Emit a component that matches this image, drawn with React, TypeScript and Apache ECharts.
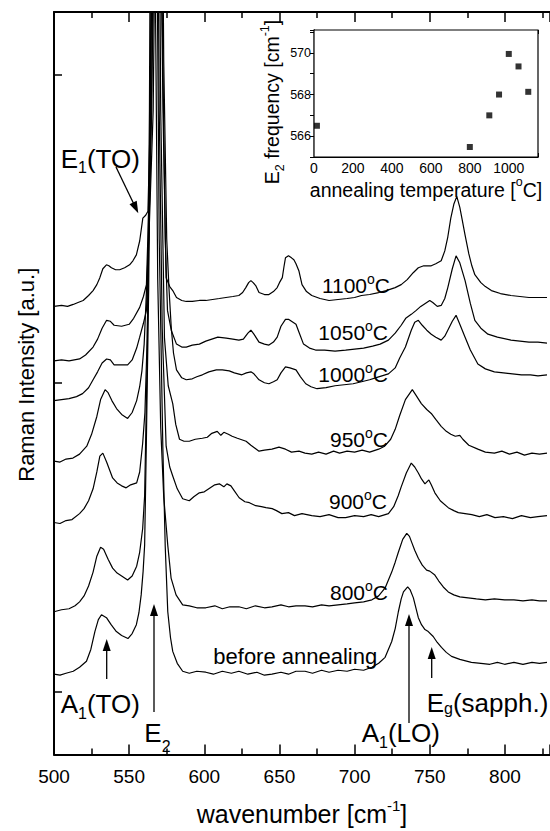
import React, { useEffect, useRef } from "react";
import * as echarts from "echarts";

const FONT = "'Liberation Sans', Arial, Helvetica, sans-serif";

// ---- main spectra: [wavenumber (cm^-1), intensity (a.u., offset per curve)] ----
const beforeAnnealing: number[][] = [
  [500,81],[504,80],[508,82],[512.8,84],[517,88],[521.6,94],[524.5,106],[527.2,124],[529.5,136],[531.6,141],[534.9,138],[538,131],[541.5,124],[545,120],[549.2,117],[552,122],[554.8,131],[556.5,143],[558,161],[559.3,185],[560.3,211],[561.4,311],[563,470],[564.5,750],[565.5,1100],[566.5,1500],[567.5,1150],[568.5,820],[570,520],[572.4,311],[574,210],[575.7,144],[577.5,118],[579,104],[582,92],[585.6,84],[590,82],[595,84],[601,83],[606,81],[612,84],[618,82],[623,84],[629,81],[635,83],[640,80],[645,81],[651,83],[656,81],[661,84],[667,84],[672,82],[678,85],[683,83],[689,85],[695,84],[700,86],[706,85],[711.5,88],[716,92],[720.3,98],[724.7,114],[727,127],[729.1,144],[731,157],[732.5,164],[735.3,169],[737,166],[739.1,158],[742.4,138],[744.5,131],[746.8,126],[749,124],[752.3,119],[755,113],[757.8,108],[761,103],[764.5,99],[770,96],[777.7,93],[784,92],[790,91],[795,93],[799.8,91],[806,93],[812,91],[818,93],[823,92],[828,93]
];
const annealed800: number[][] = [
  [500,144],[505,146],[510,147],[514,150],[517,154],[520,160],[523,170],[526,184],[528.5,200],[531,209],[533,207],[536,197],[539,188],[542,183],[545,180],[549,176],[552,180],[555,190],[557,204],[559,228],[560.3,261],[562,400],[563.5,650],[564.5,1000],[565.5,1500],[566.5,1100],[567.5,760],[569,480],[571,330],[573,260],[575.7,211],[577.9,178],[581.2,161],[585.6,151],[590,150],[595,148],[601,148],[607,150],[612,147],[617,149],[623,149],[628,147],[634,150],[640,148],[645,149],[651,151],[656,149],[661,150],[667,150],[672,149],[678,151],[683,150],[689,151],[695,152],[700,153],[706,154],[711.5,156],[716,160],[720.3,168],[724.7,184],[727,194],[729.1,204],[732,217],[734.7,223],[736.5,220],[738,214],[740,206],[742.4,198],[745,191],[747.9,186],[750,185],[753.4,181],[756,175],[759,169],[762.3,164],[766,161],[770,159],[775.5,158],[781,157],[787,156],[793,157],[799.8,156],[806,156],[812,155],[818,156],[823,155],[828,155]
];
const annealed900: number[][] = [
  [500,234],[504,233],[508,236],[512,237],[517,243],[520,248],[523,256],[526,268],[528.5,285],[530.5,301],[532.5,304],[535,295],[539,279],[542,274],[545,271],[548,269],[551,272],[555,274],[557,285],[559,314],[560.5,345],[562,420],[564,600],[565.5,950],[567,1500],[568.5,1000],[570,650],[572,430],[574.6,311],[577,290],[579,281],[582,268],[585.6,258],[590,256],[593,260],[596.7,264],[600,265],[604,269],[607,272],[610,273],[613,270],[615,273],[617.7,271],[620,266],[623.2,259],[627,255],[630,254],[634.2,251],[638,250],[641,249],[645.2,248],[648,246],[651.6,243],[656,244],[660,241],[665,243],[671.5,241],[677,240],[683,242],[689,239],[694,239],[700,241],[706,240],[711,242],[716,240],[722.5,243],[726,250],[729,261],[731,270],[734.4,284],[737.7,294],[740,290],[742.4,284],[744.5,278],[746.8,273],[749.4,277],[751,272],[753.4,264],[757,256],[762.3,249],[766,246],[769,244],[773.5,243],[778,242],[783,240],[788,242],[793.4,239],[799,240],[805,238],[811,241],[817,239],[822,240],[828,241]
];
const annealed950: number[][] = [
  [500,296],[504,295],[508,298],[512.6,299],[517,303],[521.8,311],[525,323],[528.5,341],[531,358],[534,368],[536,365],[538.5,357],[541.6,349],[545,343],[549,339],[552,345],[555,357],[557,371],[558.5,387],[560,414],[563,520],[565,650],[566.5,950],[568,1500],[569.5,1000],[571,650],[573.5,420],[576,372],[579,354],[581,333],[583.5,318],[586.5,316],[590,316],[594,318],[598.7,319],[602,320],[605,324],[608.6,326],[611,322],[613,325],[616,323],[618.5,321],[622,319],[627.8,316],[631,312],[636.4,306],[640,307],[645,308],[649.7,310],[654,308],[658,305],[663,306],[667,304],[671.5,303],[676,305],[681,303],[686,306],[690,304],[695,306],[700,305],[705,307],[710,305],[716,308],[720,311],[724,318],[727,328],[730,342],[733.8,358],[738.4,368],[741,362],[744.4,354],[748,348],[751,344],[754,338],[757.6,331],[761,326],[764,323],[767,321],[770,322],[772,318],[776,312],[782,308],[787,305],[793,304],[798,306],[803,303],[808,305],[813,302],[818,304],[823,303],[828,304]
];
const annealed1000: number[][] = [
  [500,357],[505,358],[510,359],[515,361],[519,364],[523,370],[526,378],[529,386],[532,395],[535,399],[537.5,398],[540,393],[544,393],[549,393],[552,398],[555,410],[557,421],[559.5,435],[561.5,448],[564,560],[566,650],[568,950],[570,1500],[571.5,1000],[573,700],[575,520],[576.5,470],[578,431],[579.5,405],[581.5,388],[585,380],[588,378],[592,379],[595,381],[598.7,383],[603,386],[608,388],[612,388],[616.6,387],[620,385],[625,383],[628,385],[631,386],[633,384],[636.4,378],[640,375],[643,374],[646,376],[648.5,378],[651,385],[654,391],[657,390],[661,388],[664,381],[667.5,374],[671,371],[675,369],[681,370],[687,372],[693,373],[699,374],[704.6,376],[710,378],[716,381],[722.5,384],[727,390],[730,400],[733.8,411],[737.7,428],[740,436],[742.4,438],[745,433],[748,428],[751,424],[754,421],[757.6,418],[760,422],[762,428],[765,437],[767.5,443],[770,434],[773.5,421],[777,408],[782,394],[787,389],[793,386],[799,385],[805,384],[811,383],[817,383],[822,382],[828,383]
];
const annealed1050: number[][] = [
  [500,397],[505,398],[510,397],[517,399],[521,403],[526,411],[529,419],[532,430],[535,438],[537.5,437],[540,433],[545,432],[550,434],[553,440],[557,451],[559.5,462],[561.5,474],[564,600],[566,750],[568,1100],[569.3,1500],[570.5,1100],[572,750],[574,520],[575.5,448],[578,428],[581.5,414],[585,411],[588,411],[592,413],[596.7,414],[601,417],[605,419],[609,421],[614.6,420],[619,419],[623,418],[626,419],[629,425],[631,428],[633,424],[636.4,416],[640,414],[643,413],[646,416],[648.5,421],[651,432],[654,439],[656,439],[658,437],[661,434],[663,426],[666,414],[670,410],[674,408],[680,408],[687,407],[694,408],[700,409],[706,410],[712,412],[717,414],[722.5,418],[727,425],[731,433],[734,440],[737.7,444],[741,448],[744,452],[747,455],[750,458],[752,456],[755,452],[757.6,453],[760,460],[762,471],[765,490],[767.5,503],[770,496],[773.5,478],[777,455],[780,438],[784,430],[788.7,424],[795,421],[804,418],[810,417],[816,416],[822,416],[828,415]
];
const annealed1100: number[][] = [
  [500,452],[505,453],[509,452],[512.8,454],[516,456],[519.4,458],[523,463],[526,468],[528.5,474],[530.5,481],[532.5,490],[534.9,494],[536.5,493],[538.2,491],[541,489],[543.7,489],[547,491],[550.3,494],[552.5,498],[554.8,504],[557,518],[559.1,541],[561,544],[562.5,548],[564,640],[566,900],[567,1200],[568.1,1500],[569.2,1200],[570.5,900],[572.5,650],[574.6,481],[577,472],[579,468],[581.5,461],[585,458],[588,457],[592,457],[596.7,458],[601,458],[605.5,459],[610,460],[614.4,461],[619,462],[623,463],[625.5,466],[627.6,471],[629.5,476],[631,478],[632.5,476],[634.2,473],[636.4,466],[640,464],[643,464],[646,467],[648.5,471],[650,476],[651.9,481],[653,492],[654,501],[656,503],[658,501],[659.6,499],[661,495],[662.9,488],[665,474],[668,467],[671.5,463],[677,460],[683,458],[689,459],[695,460],[700,461],[704.6,463],[710,464],[716,466],[721,468],[727,471],[731,474],[735,479],[739,486],[742.4,491],[746,493],[751,493],[754,495],[757.6,498],[760,508],[762,522],[764,541],[766,555],[768,563],[770,552],[771.5,540],[773.5,524],[776,505],[778,493],[780,484],[784,476],[787,472],[791,468],[797,465],[804,463],[810,462],[816,461],[822,461],[828,461]
];
const spectra = [beforeAnnealing, annealed800, annealed900, annealed950, annealed1000, annealed1050, annealed1100];
const spectraNames = ["before annealing", "800°C", "900°C", "950°C", "1000°C", "1050°C", "1100°C"];

// ---- inset: E2 frequency vs annealing temperature ----
const annealTemps = [15, 800, 900, 950, 1000, 1050, 1100];
const e2Freq = [566.5, 565.48, 567.0, 568.0, 569.95, 569.35, 568.13];

// tick labels
const mainXTickLabels = [500, 550, 600, 650, 700, 750, 800];
const insetXTickLabels = [0, 200, 400, 600, 800, 1000];
const insetYTickLabels = [566, 568, 570];
const mainYTicks = [63, 375, 686];

const n = (t: string) => `{n|${t}}`;
const sub = (t: string) => `{b|${t}}`;
const sup = (t: string) => `{p|${t}}`;

function arrow(x1: number, y1: number, x2: number, y2: number) {
  const dx = x2 - x1, dy = y2 - y1;
  const len = Math.sqrt(dx * dx + dy * dy);
  const ux = dx / len, uy = dy / len;
  const hl = 12, hw = 4;
  const bx = x2 - ux * hl, by = y2 - uy * hl;
  return [
    { type: "line", shape: { x1, y1, x2: bx + ux * 2, y2: by + uy * 2 }, style: { stroke: "#000", lineWidth: 1.3 }, z: 100 },
    { type: "polygon", shape: { points: [[x2, y2], [bx - uy * hw, by + ux * hw], [bx + uy * hw, by - ux * hw]] }, style: { fill: "#000" }, z: 100 },
  ];
}

function peakLabel(text: string, x: number, baseline: number, subPad: number) {
  return {
    type: "text", x, y: baseline - 22, z: 100,
    style: {
      text, align: "left", verticalAlign: "top", fill: "#000", fontFamily: FONT,
      rich: {
        n: { fontSize: 26, lineHeight: 26, verticalAlign: "top", fontFamily: FONT, fill: "#000" },
        b: { fontSize: 16, lineHeight: 16, verticalAlign: "top", padding: [subPad, 0, 0, 0], fontFamily: FONT, fill: "#000" },
      },
    },
  };
}

function tempLabel(t: string, right: number, baseline: number) {
  return {
    type: "text", x: right, y: baseline - 21, z: 100,
    style: {
      text: n(t) + sup("o") + n("C"), align: "right", verticalAlign: "top", fontFamily: FONT, fill: "#000",
      rich: {
        n: { fontSize: 21, lineHeight: 21, verticalAlign: "top", padding: [3, 0, 0, 0], fontFamily: FONT, fill: "#000" },
        p: { fontSize: 14, lineHeight: 14, verticalAlign: "top", fontFamily: FONT, fill: "#000" },
      },
    },
  };
}

export default function App() {
  const ref = useRef<HTMLDivElement>(null);
  useEffect(() => {
    if (!ref.current) return;
    const chart = echarts.init(ref.current, undefined, { renderer: "svg" });
    const axisLine = { show: true, lineStyle: { color: "#000", width: 2 } };
    const insetLine = { show: true, lineStyle: { color: "#000", width: 1.2 } };

    const option: any = {
      animation: false,
      backgroundColor: "#fff",
      grid: [
        { left: 54, top: 12, right: -4, bottom: 70, show: false },
        { left: 314, top: 30, right: 12, bottom: 674, show: true, borderColor: "#000", borderWidth: 1.2, backgroundColor: "#fff", z: 5 },
      ],
      xAxis: [
        {
          gridIndex: 0, type: "value", min: 500, max: 830, interval: 50, position: "bottom",
          axisLine, splitLine: { show: false },
          axisTick: { inside: true, length: 10, lineStyle: { color: "#000", width: 1.5 } },
          minorTick: { show: true, splitNumber: 2, length: 6, lineStyle: { color: "#000", width: 1.5 } },
          axisLabel: {
            margin: 12, fontSize: 19, fontFamily: FONT, color: "#000",
            customValues: mainXTickLabels,
            formatter: (v: number) => (mainXTickLabels.includes(v) ? String(v) : ""),
          },
          name: n("wavenumber [cm") + sup("-1") + n("]"), nameLocation: "middle", nameGap: 43,
          nameTextStyle: {
            rich: {
              n: { fontSize: 25, lineHeight: 25, verticalAlign: "top", padding: [3.5, 0, 0, 0], fontFamily: FONT, color: "#000" },
              p: { fontSize: 15, lineHeight: 15, verticalAlign: "top", fontFamily: FONT, color: "#000" },
            },
          },
        },
        {
          gridIndex: 0, type: "value", min: 500, max: 830, interval: 50, position: "top",
          axisLine, splitLine: { show: false },
          axisTick: { inside: true, length: 10, lineStyle: { color: "#000", width: 1.5 } },
          minorTick: { show: true, splitNumber: 2, length: 6, lineStyle: { color: "#000", width: 1.5 } },
          axisLabel: { show: false },
        },
        {
          gridIndex: 1, type: "value", min: 0, max: 1150, interval: 100, position: "bottom",
          axisLine: insetLine, splitLine: { show: false },
          axisTick: { inside: true, length: 4, lineStyle: { color: "#000", width: 1 } },
          axisLabel: {
            margin: 4, fontSize: 14, fontFamily: FONT, color: "#000",
            customValues: insetXTickLabels,
            formatter: (v: number) => String(v),
          },
          name: n("annealing temperature [") + sup("o") + n("C]"), nameLocation: "middle", nameGap: 18,
          nameTextStyle: {
            rich: {
              n: { fontSize: 19.5, lineHeight: 19.5, verticalAlign: "top", padding: [4, 0, 0, 0], fontFamily: FONT, color: "#000" },
              p: { fontSize: 12.5, lineHeight: 12.5, verticalAlign: "top", fontFamily: FONT, color: "#000" },
            },
          },
        },
        {
          gridIndex: 1, type: "value", min: 0, max: 1150, interval: 100, position: "top",
          axisLine: insetLine, splitLine: { show: false },
          axisTick: { inside: true, length: 4, lineStyle: { color: "#000", width: 1 } },
          axisLabel: { show: false },
        },
      ],
      yAxis: [
        {
          gridIndex: 0, type: "value", min: 0, max: 749, position: "left",
          axisLine, splitLine: { show: false },
          axisTick: { inside: true, length: 8, customValues: mainYTicks, lineStyle: { color: "#000", width: 1.5 } },
          axisLabel: { show: false },
          name: "Raman Intensity [a.u.]", nameLocation: "middle", nameGap: 17,
          nameTextStyle: { fontSize: 22, lineHeight: 22, fontFamily: FONT, color: "#000", padding: [0, 0, 0, 17] },
        },
        {
          gridIndex: 1, type: "value", min: 565, max: 571.1, interval: 1, position: "left",
          axisLine: insetLine, splitLine: { show: false },
          axisTick: { inside: true, length: 4, lineStyle: { color: "#000", width: 1 } },
          axisLabel: {
            margin: 3, fontSize: 12.5, fontFamily: FONT, color: "#000",
            customValues: insetYTickLabels,
            formatter: (v: number) => String(v),
          },
          name: n("E") + sub("2") + n(" frequency [cm") + sup("-1") + n("]"), nameLocation: "middle", nameGap: 30,
          nameTextStyle: {
            padding: [0, 17, 0, 0],
            rich: {
              n: { fontSize: 19.5, lineHeight: 19.5, verticalAlign: "top", padding: [4, 0, 0, 0], fontFamily: FONT, color: "#000" },
              b: { fontSize: 12.5, lineHeight: 12.5, verticalAlign: "top", padding: [15, 0, 0, 0], fontFamily: FONT, color: "#000" },
              p: { fontSize: 12.5, lineHeight: 12.5, verticalAlign: "top", fontFamily: FONT, color: "#000" },
            },
          },
        },
        {
          gridIndex: 1, type: "value", min: 565, max: 571.1, interval: 1, position: "right",
          axisLine: insetLine, splitLine: { show: false },
          axisTick: { inside: true, length: 4, lineStyle: { color: "#000", width: 1 } },
          axisLabel: { show: false },
        },
      ],
      series: [
        ...spectra.map((d, i) => ({
          name: spectraNames[i], type: "line", xAxisIndex: 0, yAxisIndex: 0, data: d,
          showSymbol: false, symbol: "none", clip: true, smooth: false,
          lineStyle: { color: "#000", width: 1.2 }, z: 3,
        })),
        {
          name: "E2 frequency", type: "scatter", xAxisIndex: 2, yAxisIndex: 1,
          data: annealTemps.map((t, i) => [t, e2Freq[i]]),
          symbol: "rect", symbolSize: 6, itemStyle: { color: "#000" }, z: 20, clip: false,
        },
      ],
      graphic: [
        peakLabel(n("E") + sub("1") + n("(TO)"), 60.7, 168.3, 13.5),
        ...arrow(116, 167, 138.3, 213.3),
        peakLabel(n("A") + sub("1") + n("(TO)"), 60.7, 713.3, 14.5),
        ...arrow(106.7, 679, 106.7, 639),
        peakLabel(n("E") + sub("2"), 144.3, 742, 18.5),
        ...arrow(154, 712, 154, 604),
        peakLabel(n("A") + sub("1") + n("(LO)"), 361.7, 742, 14.5),
        ...arrow(409, 723, 409, 614),
        peakLabel(n("E") + sub("g") + n("(sapph.)"), 426.7, 711.7, 10.5),
        ...arrow(431.7, 678, 431.7, 647),
        tempLabel("1100", 390, 293),
        tempLabel("1050", 388, 340),
        tempLabel("1000", 388, 381.7),
        tempLabel("950", 388, 446.7),
        tempLabel("900", 387, 509),
        tempLabel("800", 388, 600),
        {
          type: "text", x: 213.3, y: 662 - 17, z: 100,
          style: { text: "before annealing", fontSize: 22, fontFamily: FONT, fill: "#000", align: "left", verticalAlign: "top" },
        },
      ],
    };
    chart.setOption(option);
    return () => chart.dispose();
  }, []);
  return <div ref={ref} style={{ position: "fixed", left: 0, top: 0, width: 550, height: 831 }} />;
}
